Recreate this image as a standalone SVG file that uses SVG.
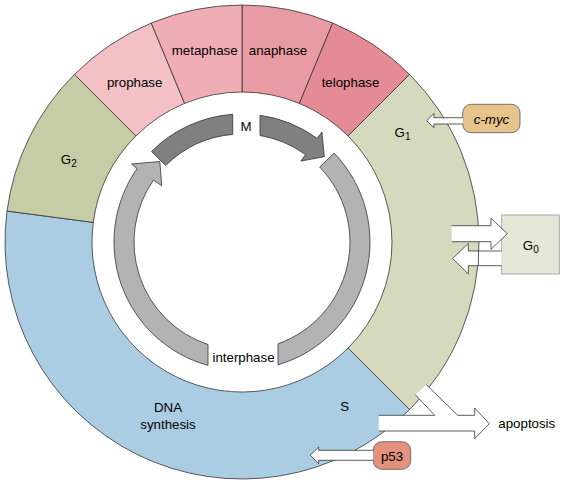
<svg xmlns="http://www.w3.org/2000/svg" width="564" height="484" viewBox="0 0 564 484">
<style>
text{font-family:"Liberation Sans",Arial,Helvetica,sans-serif;font-size:13.3px;fill:#000}
.seg{stroke:#333;stroke-width:0.8}
.sub{font-size:10px}
.arc{stroke:#333;stroke-width:0.8}
.bf{fill:#fff;stroke:none}
.ol{fill:none;stroke:#333;stroke-width:0.8;stroke-linejoin:miter}
.blk{fill:#fff;stroke:#333;stroke-width:0.8}
.box{stroke:#555;stroke-width:0.8}
</style>
<rect width="564" height="484" fill="#fff"/>
<g id="ring">
<g id="anaphase"><path class="seg" fill="#e99ba3" d="M242 5 A237 237 0 0 1 332.7 23.04 L299.4 103.42 A150 150 0 0 0 242 92 Z"/><text x="278" y="55" text-anchor="middle">anaphase</text></g>
<g id="telophase"><path class="seg" fill="#e48b96" d="M332.7 23.04 A237 237 0 0 1 409.58 74.42 L348.07 135.93 A150 150 0 0 0 299.4 103.42 Z"/><text x="350.5" y="87" text-anchor="middle">telophase</text></g>
<g id="G1"><path class="seg" fill="#d5d9bd" d="M409.58 74.42 A237 237 0 0 1 409.58 409.58 L348.07 348.07 A150 150 0 0 0 348.07 135.93 Z"/><text x="402.5" y="136.5" text-anchor="middle">G<tspan class="sub" dy="3">1</tspan></text></g>
<g id="S"><path class="seg" fill="#abcde3" d="M409.58 409.58 A237 237 0 0 1 7.03 211.06 L93.28 222.42 A150 150 0 0 0 348.07 348.07 Z"/><text x="344.7" y="411" text-anchor="middle">S</text><text x="168" y="412" text-anchor="middle">DNA</text><text x="168" y="428.5" text-anchor="middle">synthesis</text></g>
<g id="G2"><path class="seg" fill="#c6cca6" d="M7.03 211.06 A237 237 0 0 1 74.42 74.42 L135.93 135.93 A150 150 0 0 0 93.28 222.42 Z"/><text x="68.8" y="164" text-anchor="middle">G<tspan class="sub" dy="3">2</tspan></text></g>
<g id="prophase"><path class="seg" fill="#f3c0c5" d="M74.42 74.42 A237 237 0 0 1 151.3 23.04 L184.6 103.42 A150 150 0 0 0 135.93 135.93 Z"/><text x="134.7" y="87" text-anchor="middle">prophase</text></g>
<g id="metaphase"><path class="seg" fill="#efadb4" d="M151.3 23.04 A237 237 0 0 1 242 5 L242 92 A150 150 0 0 0 184.6 103.42 Z"/><text x="204.7" y="55" text-anchor="middle">metaphase</text></g>
</g>
<g id="M-arrow">
<path class="arc" fill="#808080" d="M151.5 151.5 A128 128 0 0 1 232.7 114.3 L232.7 134.4 A108 108 0 0 0 165.6 165.6 Z"/>
<path class="arc" fill="#808080" d="M260 115.3 A128 128 0 0 1 317.2 138.4 L321.9 132 L324.3 156.7 L300.8 161.1 L305.5 154.6 A108 108 0 0 0 260 135.5 Z"/>
<text x="246" y="131" text-anchor="middle">M</text>
</g>
<g id="interphase-arrow">
<path class="arc" fill="#b3b3b3" d="M334.1 153.1 A128 128 0 0 1 278 364.8 L278 343.8 A108 108 0 0 0 319.7 167 Z"/>
<path class="arc" fill="#b3b3b3" d="M208 365.4 A128 128 0 0 1 137.1 168.6 L131.5 164 L159.8 161.5 L161.7 185.8 L153.5 180.1 A108 108 0 0 0 208 344.5 Z"/>
<text x="243.5" y="362" text-anchor="middle">interphase</text>
</g>
<g id="cmyc"><rect class="box" x="462.7" y="104.3" width="57.3" height="28.4" rx="8.5" fill="#e6c48c"/><text x="491.5" y="123.5" text-anchor="middle" font-style="italic">c-myc</text></g>
<g id="G0"><rect x="501.7" y="215" width="57.6" height="59" fill="#e5e8d6" stroke="#999" stroke-width="0.8"/><text x="530.8" y="250" text-anchor="middle">G<tspan class="sub" dy="3">0</tspan></text></g>
<g id="p53"><rect class="box" x="373.3" y="441.7" width="37.4" height="27.6" rx="8.5" fill="#e4927e"/><text x="392" y="460.5" text-anchor="middle">p53</text></g>
<g id="apoptosis"><text x="498.3" y="428" text-anchor="start">apoptosis</text></g>
<g id="connectors">
<path class="blk" d="M462.9 117.7 L434 117.7 L434 113.5 L426.7 120.7 L434 127.7 L434 124 L462.9 124"/>
<path class="blk" d="M501.7 251 L468.3 251 L468.3 243.3 L452.7 258.5 L468.3 274 L468.3 265.7 L501.7 265.7"/>
<path class="ol" d="M478.55 251 L478.35 265.7"/>
<path class="bf" d="M451.7 225.7 L491 225.7 L491 218.3 L507.3 233.7 L491 249.3 L491 241.7 L451.7 241.7 Z"/>
<path class="ol" d="M451.7 225.7 L491 225.7 L491 218.3 L507.3 233.7 L491 249.3 L491 241.7 L451.7 241.7"/>
<path class="bf" d="M378.7 415.3 L434.7 415.3 L415.3 394.7 L426.3 384.7 L457.7 415.3 L474.7 415.3 L474.7 408 L489.3 423.7 L474.7 438.7 L474.7 431 L378.7 431 Z"/>
<path class="ol" d="M378.7 415.3 L434.7 415.3 L415.3 394.7"/>
<path class="ol" d="M426.3 384.7 L457.7 415.3 L474.7 415.3 L474.7 408 L489.3 423.7 L474.7 438.7 L474.7 431 L378.7 431"/>
<path class="blk" d="M373.3 450.3 L318.7 450.3 L318.7 447 L310.3 455.3 L318.7 463.7 L318.7 460.3 L373.3 460.3"/>
</g>
</svg>
